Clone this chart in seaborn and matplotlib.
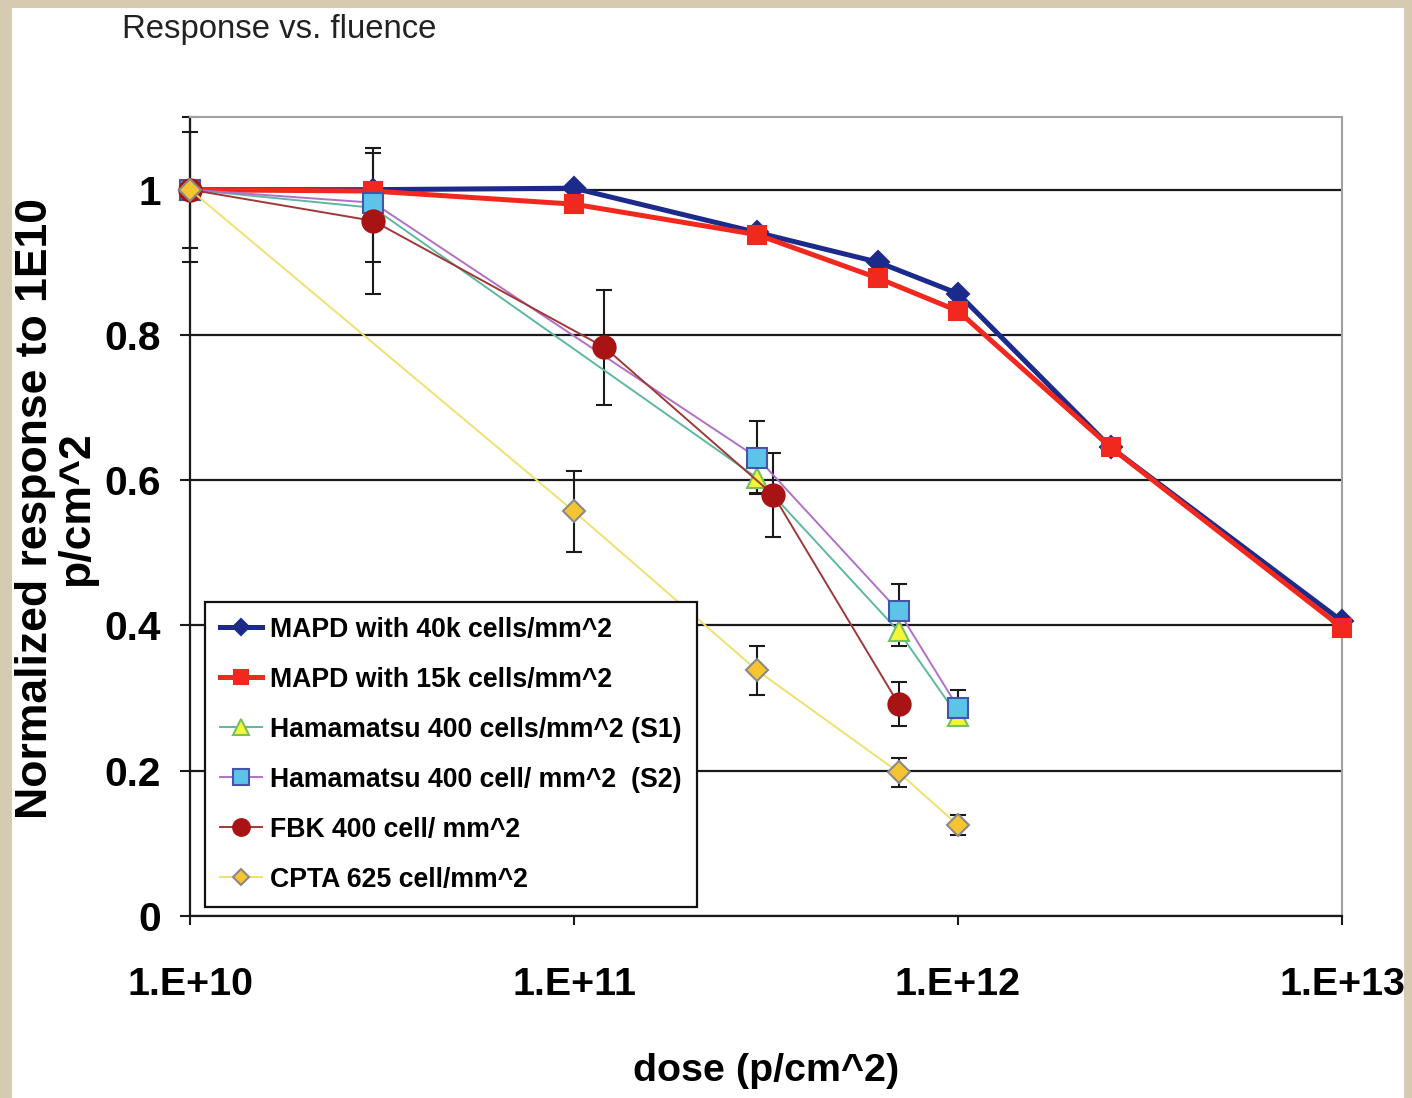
import numpy as np
import pandas as pd
import matplotlib
matplotlib.use("Agg")
import matplotlib.pyplot as plt
import seaborn as sns
from matplotlib import font_manager as fm
from matplotlib.patches import Rectangle
from matplotlib.ticker import NullLocator

# ---------------- data ----------------
title_text = "Response vs. fluence"
x_label = "dose (p/cm^2)"
y_label = "Normalized response to 1E10\np/cm^2"
x_ticks = [1e10, 1e11, 1e12, 1e13]
x_tick_labels = ["1.E+10", "1.E+11", "1.E+12", "1.E+13"]
y_ticks = [0, 0.2, 0.4, 0.6, 0.8, 1.0]
y_tick_labels = ["0", "0.2", "0.4", "0.6", "0.8", "1"]

mapd40_label = "MAPD with 40k cells/mm^2"
mapd40_x = [1e10, 3e10, 1e11, 3e11, 6.2e11, 1e12, 2.5e12, 1e13]
mapd40_y = [1.0, 1.0, 1.002, 0.941, 0.900, 0.857, 0.645, 0.406]

mapd15_label = "MAPD with 15k cells/mm^2"
mapd15_x = [1e10, 3e10, 1e11, 3e11, 6.2e11, 1e12, 2.5e12, 1e13]
mapd15_y = [1.0, 0.998, 0.980, 0.938, 0.878, 0.833, 0.645, 0.397]

s1_label = "Hamamatsu 400 cells/mm^2 (S1)"
s1_x = [1e10, 3e10, 3e11, 7e11, 1e12]
s1_y = [1.0, 0.975, 0.603, 0.392, 0.275]
s1_err = [0.08, 0.075, 0.02, 0.02, 0.01]

s2_label = "Hamamatsu 400 cell/ mm^2  (S2)"
s2_x = [1e10, 3e10, 3e11, 7e11, 1e12]
s2_y = [1.0, 0.982, 0.631, 0.420, 0.287]
s2_err = [0.0, 0.0, 0.05, 0.037, 0.024]

fbk_label = "FBK 400 cell/ mm^2"
fbk_x = [1e10, 3e10, 1.2e11, 3.3e11, 7e11]
fbk_y = [1.0, 0.957, 0.783, 0.580, 0.292]
fbk_err = [0.1, 0.1, 0.079, 0.058, 0.03]

cpta_label = "CPTA 625 cell/mm^2"
cpta_x = [1e10, 1e11, 3e11, 7e11, 1e12]
cpta_y = [1.0, 0.557, 0.338, 0.198, 0.125]
cpta_err = [0.0, 0.056, 0.034, 0.02, 0.014]


# ---------------- fonts ----------------
def has_font(name):
    try:
        fm.findfont(fm.FontProperties(family=name), fallback_to_default=False)
        return True
    except Exception:
        return False

if has_font("Liberation Sans Narrow"):
    NARROW = "Liberation Sans Narrow"
    k = 1.0
else:
    NARROW = "Liberation Sans"
    k = 0.86
WIDE = "Liberation Sans"
plt.rcParams["font.family"] = [NARROW, "DejaVu Sans"]

# ---------------- figure ----------------
W, H = 1412, 1098
fig = plt.figure(figsize=(W / 100, H / 100), dpi=100)
fig.patch.set_facecolor("#d6cbb0")
fig.add_artist(Rectangle((12 / W, 0), (1404 - 12) / W, 1 - 8 / H,
                         transform=fig.transFigure, facecolor="white",
                         edgecolor="none", zorder=-5))

left, right, top, bottom = 190, 1342, 117, 916
ax = fig.add_axes([left / W, 1 - bottom / H, (right - left) / W, (bottom - top) / H])
ax.set_facecolor("white")
ax.set_xscale("log")

series = [
    dict(x=mapd40_x, y=mapd40_y, label=mapd40_label, color="#1c2a8c", lw=3.6,
         marker="D", ms=11, mfc="#1c2a8c", mec="#1c2a8c", err=None),
    dict(x=mapd15_x, y=mapd15_y, label=mapd15_label, color="#f0281e", lw=3.6,
         marker="s", ms=13, mfc="#f0281e", mec="#f0281e", err=None),
    dict(x=s1_x, y=s1_y, label=s1_label, color="#5db8a0", lw=1.4,
         marker="^", ms=15, mfc="#f5f53a", mec="#77c060", err=s1_err),
    dict(x=s2_x, y=s2_y, label=s2_label, color="#b070c8", lw=1.4,
         marker="s", ms=15, mfc="#5cc4e8", mec="#4455a8", err=s2_err),
    dict(x=fbk_x, y=fbk_y, label=fbk_label, color="#a03838", lw=1.4,
         marker="o", ms=16, mfc="#a81414", mec="#a81414", err=fbk_err),
    dict(x=cpta_x, y=cpta_y, label=cpta_label, color="#f0e070", lw=1.4,
         marker="D", ms=11, mfc="#f5c431", mec="#8a8a8a", err=cpta_err),
]

handles = []
for i, s in enumerate(series):
    df = pd.DataFrame({"dose": s["x"], "resp": s["y"]})
    if s["err"] is not None:
        ax.errorbar(s["x"], s["y"], yerr=s["err"], fmt="none", ecolor="#1a1a1a",
                    elinewidth=1.5, capsize=6, capthick=1.5, zorder=2 + i * 0.1,
                    clip_on=False)
    sns.lineplot(data=df, x="dose", y="resp", ax=ax, sort=False, errorbar=None,
                 color=s["color"], linewidth=s["lw"], marker=s["marker"],
                 markersize=s["ms"], markerfacecolor=s["mfc"],
                 markeredgecolor=s["mec"], markeredgewidth=1.5,
                 label=s["label"], zorder=3 + i * 0.1, clip_on=False)
    handles.append(ax.lines[-1])

ax.set_xlim(1e10, 1e13)
ax.set_ylim(0, 1.1)
ax.set_xticks(x_ticks)
ax.set_xticklabels(x_tick_labels)
ax.xaxis.set_minor_locator(NullLocator())
ax.set_yticks(y_ticks)
ax.set_yticklabels(y_tick_labels)

ax.grid(axis="y", color="#1a1a1a", linewidth=1.6)
ax.grid(axis="x", visible=False)
ax.set_axisbelow(True)

for side in ["top", "right"]:
    ax.spines[side].set_color("#a0a0a0")
    ax.spines[side].set_linewidth(1.5)
for side in ["left", "bottom"]:
    ax.spines[side].set_color("#1a1a1a")
    ax.spines[side].set_linewidth(1.6)

ax.tick_params(axis="y", length=7, width=1.5, color="#1a1a1a", pad=14,
               labelsize=34 * k)
ax.tick_params(axis="x", length=6.5, width=1.5, color="#1a1a1a", pad=30,
               labelsize=33 * k)
for lab in ax.get_xticklabels() + ax.get_yticklabels():
    lab.set_fontweight("bold")
    lab.set_family([NARROW, "DejaVu Sans"])

ax.set_xlabel(x_label, fontsize=33 * k, fontweight="bold", family=[NARROW, "DejaVu Sans"])
ax.xaxis.set_label_coords(0.5, -0.172)
ax.xaxis.label.set_va("top")
ax.set_ylabel(y_label, fontsize=32, fontweight="bold", family=[WIDE, "DejaVu Sans"],
              linespacing=0.98, multialignment="center")
ax.yaxis.set_label_coords(-0.081, 0.51)

leg = ax.legend(handles=handles, labels=[s["label"] for s in series],
                loc="upper left", bbox_to_anchor=(0.013, 0.393),
                borderaxespad=0, frameon=True, fancybox=False, framealpha=1,
                edgecolor="#111111", handlelength=1.6, handletextpad=0.3,
                labelspacing=0.9, borderpad=0.55, markerscale=0.75,
                prop=fm.FontProperties(family=[NARROW, "DejaVu Sans"],
                                       weight="bold", size=22.3 * k))
leg.get_frame().set_linewidth(1.6)
leg.set_zorder(10)

fig.text(122 / W, 1 - 38 / H, title_text, ha="left", va="baseline",
         fontsize=27.5 * k, color="#222222", family=[NARROW, "DejaVu Sans"])

fig.savefig("out.png", dpi=100, facecolor=fig.get_facecolor())
